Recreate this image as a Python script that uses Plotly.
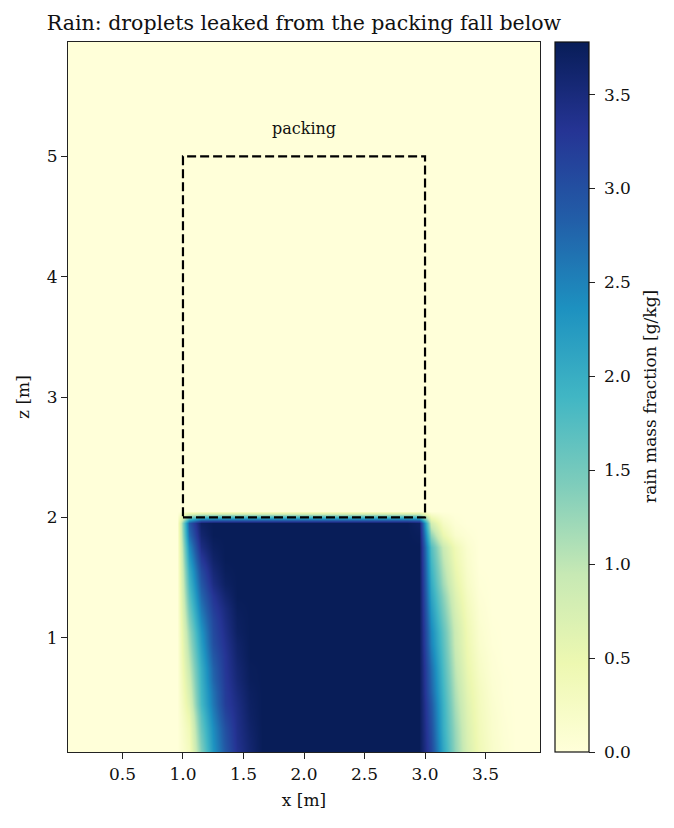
import numpy as np
import plotly.graph_objects as go

# ---- grid (cell centres, m) ----
x_centers = np.round(np.arange(0.05, 4.0, 0.1), 2)   # 40 columns
z_centers = np.round(np.arange(0.05, 6.0, 0.1), 2)   # 60 rows

peak = 3.78  # g/kg inside the rain curtain

# left edge of the rain curtain, columns x = 0.95 ... 1.65, rows z = 0.05 ... 1.95
left_profiles = [
    [0, 0.30, 1.40, 2.30, 2.90, 3.35, 3.60, 3.78],
    [0, 0.35, 1.50, 2.35, 2.95, 3.38, 3.62, 3.78],
    [0, 0.40, 1.60, 2.40, 3.00, 3.40, 3.65, 3.78],
    [0, 0.50, 1.70, 2.50, 3.10, 3.42, 3.68, 3.78],
    [0, 0.65, 1.85, 2.60, 3.20, 3.45, 3.70, 3.78],
    [0, 0.75, 1.90, 2.65, 3.22, 3.50, 3.72, 3.78],
    [0, 0.85, 1.95, 2.75, 3.25, 3.55, 3.75, 3.78],
    [0, 0.95, 2.00, 2.80, 3.28, 3.58, 3.76, 3.78],
    [0, 1.05, 2.10, 2.90, 3.30, 3.62, 3.78, 3.78],
    [0, 1.15, 2.20, 3.00, 3.35, 3.65, 3.78, 3.78],
    [0, 1.25, 2.30, 3.05, 3.40, 3.70, 3.78, 3.78],
    [0, 1.40, 2.45, 3.10, 3.45, 3.72, 3.78, 3.78],
    [0, 1.55, 2.60, 3.20, 3.50, 3.75, 3.78, 3.78],
    [0, 1.70, 2.75, 3.30, 3.60, 3.78, 3.78, 3.78],
    [0, 1.85, 2.90, 3.45, 3.70, 3.78, 3.78, 3.78],
    [0, 2.00, 3.05, 3.55, 3.75, 3.78, 3.78, 3.78],
    [0, 2.20, 3.25, 3.65, 3.78, 3.78, 3.78, 3.78],
    [0, 2.40, 3.45, 3.72, 3.78, 3.78, 3.78, 3.78],
    [0, 2.70, 3.60, 3.78, 3.78, 3.78, 3.78, 3.78],
    [0, 2.90, 3.70, 3.78, 3.78, 3.78, 3.78, 3.78],
]

# right edge of the rain curtain, columns x = 2.85 ... 3.75, rows z = 0.05 ... 1.95
right_profiles = [
    [3.78, 3.78, 3.10, 2.10, 1.30, 0.75, 0.40, 0.18, 0.07, 0],
    [3.78, 3.78, 3.05, 2.05, 1.28, 0.72, 0.38, 0.17, 0.06, 0],
    [3.78, 3.78, 3.00, 2.00, 1.25, 0.70, 0.36, 0.15, 0.05, 0],
    [3.78, 3.78, 2.95, 1.98, 1.20, 0.67, 0.34, 0.14, 0.04, 0],
    [3.78, 3.78, 2.90, 1.95, 1.15, 0.64, 0.32, 0.12, 0.03, 0],
    [3.78, 3.78, 2.80, 1.90, 1.10, 0.60, 0.30, 0.10, 0.02, 0],
    [3.78, 3.78, 2.75, 1.85, 1.05, 0.56, 0.26, 0.08, 0.02, 0],
    [3.78, 3.78, 2.70, 1.80, 1.00, 0.52, 0.22, 0.06, 0.01, 0],
    [3.78, 3.78, 2.60, 1.75, 0.95, 0.48, 0.19, 0.05, 0, 0],
    [3.78, 3.78, 2.50, 1.70, 0.90, 0.45, 0.15, 0.03, 0, 0],
    [3.78, 3.78, 2.45, 1.65, 0.88, 0.42, 0.13, 0.02, 0, 0],
    [3.78, 3.78, 2.35, 1.55, 0.82, 0.38, 0.10, 0.01, 0, 0],
    [3.78, 3.78, 2.25, 1.45, 0.75, 0.33, 0.08, 0, 0, 0],
    [3.78, 3.78, 2.15, 1.35, 0.68, 0.28, 0.05, 0, 0, 0],
    [3.78, 3.78, 2.05, 1.20, 0.60, 0.22, 0.03, 0, 0, 0],
    [3.78, 3.78, 1.95, 1.10, 0.52, 0.18, 0.01, 0, 0, 0],
    [3.78, 3.78, 1.85, 1.00, 0.45, 0.15, 0, 0, 0, 0],
    [3.78, 3.78, 1.75, 0.90, 0.40, 0.12, 0, 0, 0, 0],
    [3.78, 3.75, 1.30, 0.50, 0.15, 0.05, 0, 0, 0, 0],
    [3.78, 3.70, 0.80, 0.25, 0.05, 0, 0, 0, 0, 0],
]

packing_x = [1.0, 3.0]
packing_z = [2.0, 5.0]

# ---- assemble field: rows below the packing carry rain, rows above are dry ----
rows = []
for lp, rp in zip(left_profiles, right_profiles):
    rows.append([0.0] * 9 + lp + [peak] * 11 + rp + [0.0] * 2)
for _ in range(len(z_centers) - len(rows)):
    rows.append([0.0] * len(x_centers))
field = np.array(rows)

ylgnbu = [
    [0.000, "rgb(255,255,217)"], [0.125, "rgb(237,248,177)"],
    [0.250, "rgb(199,233,180)"], [0.375, "rgb(127,205,187)"],
    [0.500, "rgb(65,182,196)"], [0.625, "rgb(29,145,192)"],
    [0.750, "rgb(34,94,168)"], [0.875, "rgb(37,52,148)"],
    [1.000, "rgb(8,29,88)"],
]

FONT = "DejaVu Serif"
TXT = "#111"

fig = go.Figure()
fig.add_trace(go.Heatmap(
    x=x_centers, y=z_centers, z=field,
    colorscale=ylgnbu, zmin=0, zmax=peak, zsmooth="best",
    colorbar=dict(
        x=(555 - 68) / 472, xanchor="left", xpad=0,
        y=0.5, yanchor="middle", len=1, lenmode="fraction", ypad=0,
        thickness=34, outlinewidth=1.2, outlinecolor="#111",
        ticks="outside", ticklen=6, tickwidth=1.2, tickcolor="#222",
        dtick=0.5, tick0=0, tickformat=".1f", tickprefix=" ",
        tickfont=dict(family=FONT, size=17, color=TXT),
    ),
))

fig.add_shape(type="rect", x0=packing_x[0], x1=packing_x[1],
              y0=packing_z[0], y1=packing_z[1],
              line=dict(color="black", width=2.2, dash="9px,4px"))
fig.add_annotation(x=2.0, y=5.23, text="packing", showarrow=False,
                   font=dict(family=FONT, size=16, color=TXT))

# colour-bar label, placed like the reference
fig.add_annotation(xref="paper", yref="paper", x=(650 - 68) / 472, y=0.5,
                   text="rain mass fraction [g/kg]", textangle=-90, showarrow=False,
                   xanchor="center", yanchor="middle",
                   font=dict(family=FONT, size=17, color=TXT))

axis_common = dict(
    showline=True, linecolor="#222", linewidth=1.2, mirror=True,
    ticks="outside", ticklen=6, tickwidth=1.2, tickcolor="#222",
    showgrid=False, zeroline=False,
    tickfont=dict(family=FONT, size=17, color=TXT),
)
fig.update_xaxes(range=[0.05, 3.95], tickvals=[0.5, 1.0, 1.5, 2.0, 2.5, 3.0, 3.5],
                 tickformat=".1f",
                 title=dict(text="x [m]", font=dict(family=FONT, size=17, color=TXT),
                            standoff=11),
                 **axis_common)
fig.update_yaxes(range=[0.05, 5.95], tickvals=[1, 2, 3, 4, 5],
                 title=dict(text="z [m]", font=dict(family=FONT, size=17, color=TXT),
                            standoff=12),
                 **axis_common)

fig.update_layout(
    width=674, height=828,
    margin=dict(l=68, r=134, t=42, b=76),
    paper_bgcolor="white", plot_bgcolor="white",
    title=dict(text="Rain: droplets leaked from the packing fall below",
               x=(68 + 540) / 2 / 674, xanchor="center", xref="container",
               y=1 - 23 / 828, yanchor="middle", yref="container",
               font=dict(family=FONT, size=20.5, color=TXT)),
)

fig.write_html("out.html")
